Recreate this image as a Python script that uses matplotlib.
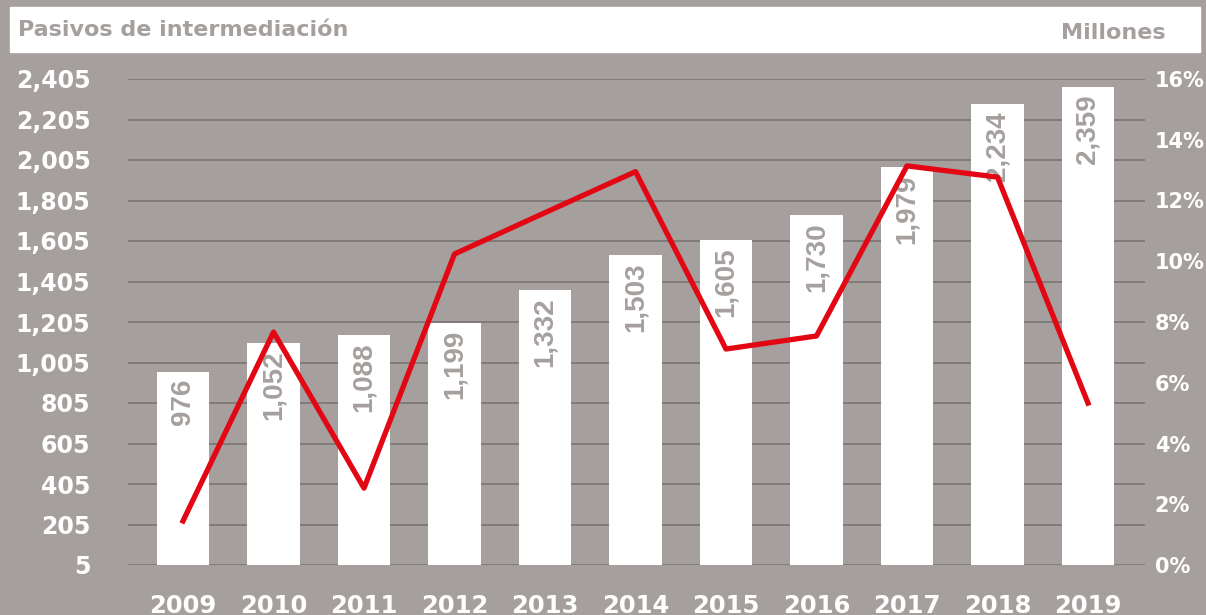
import numpy as np
import matplotlib.pyplot as plt

# =========================
# Data
# =========================
years = ["2009", "2010", "2011", "2012", "2013", "2014",
         "2015", "2016", "2017", "2018", "2019"]
bar_heights = [958, 1101, 1141, 1200, 1363, 1536, 1610, 1733, 1970, 2281, 2365]
bar_labels = ["976", "1,052", "1,088", "1,199", "1,332", "1,503",
              "1,605", "1,730", "1,979", "2,234", "2,359"]
growth_pct = [1.45, 7.67, 2.53, 10.24, 11.6, 12.95, 7.11, 7.54, 13.14, 12.77, 5.33]

left_ticks = [5, 205, 405, 605, 805, 1005, 1205, 1405, 1605, 1805, 2005, 2205, 2405]
right_ticks = [0, 2, 4, 6, 8, 10, 12, 14, 16]

bg = "#a5a09e"
grid_c = "#7e7977"
red = "#e30613"
tick_font = "DejaVu Sans"

# =========================
# Figure
# =========================
fig = plt.figure(figsize=(12.06, 6.15), dpi=100)
fig.patch.set_facecolor(bg)

ax = fig.add_axes([128 / 1206, 50 / 615, 1017 / 1206, 486 / 615])
ax.set_facecolor(bg)

x = np.arange(len(years))
ax.bar(x, bar_heights, width=0.585, color="white", zorder=2)

for xi, h, lab in zip(x, bar_heights, bar_labels):
    ax.text(xi, h - 35, lab, rotation=90, ha="center", va="top",
            fontsize=20, color=bg, family="Liberation Sans",
            fontweight="bold", zorder=3)

ax.set_ylim(5, 2405)
ax.set_xlim(-0.608, 10.63)
ax.set_yticks(left_ticks)
ax.set_yticklabels([f"{t:,}" for t in left_ticks])
ax.set_xticks(x)
ax.set_xticklabels(years)
ax.grid(axis="y", color=grid_c, linewidth=1.3, zorder=0)
ax.tick_params(axis="y", length=0, pad=27, labelsize=17, labelcolor="white")
ax.tick_params(axis="x", length=0, pad=21, labelsize=17.5, labelcolor="white")
for lab in ax.get_yticklabels() + ax.get_xticklabels():
    lab.set_fontfamily(tick_font)
    lab.set_fontweight("bold")
for s in ax.spines.values():
    s.set_visible(False)

ax2 = ax.twinx()
ax2.plot(x, growth_pct, color=red, linewidth=3.8, zorder=4)
ax2.set_ylim(0, 16)
ax2.set_yticks(right_ticks)
ax2.set_yticklabels([f"{t}%" for t in right_ticks])
ax2.tick_params(axis="y", length=0, pad=7, labelsize=15, labelcolor="white")
for lab in ax2.get_yticklabels():
    lab.set_fontfamily(tick_font)
    lab.set_fontweight("bold")
for s in ax2.spines.values():
    s.set_visible(False)

# header band
fig.patches.append(plt.Rectangle((10 / 1206, 1 - 52 / 615), 1190 / 1206, 45 / 615,
                                 transform=fig.transFigure, color="white", zorder=0))
fig.text(18 / 1206, 1 - 30 / 615, "Pasivos de intermediación", ha="left", va="center",
         fontsize=16, color=bg, family=tick_font, fontweight="bold")
fig.text(1166 / 1206, 1 - 33 / 615, "Millones", ha="right", va="center",
         fontsize=16, color=bg, family=tick_font, fontweight="bold")

fig.savefig("out.png", dpi=100, facecolor=bg)
